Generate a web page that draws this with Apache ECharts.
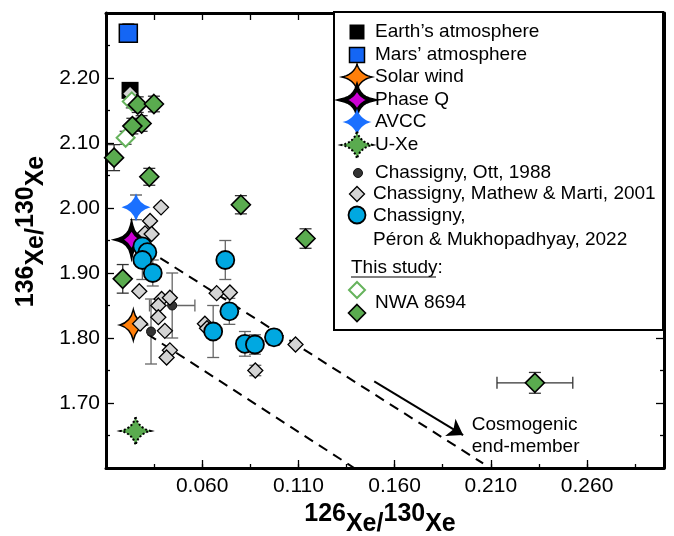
<!DOCTYPE html>
<html>
<head>
<meta charset="utf-8">
<script src="https://cdn.jsdelivr.net/npm/echarts@6/dist/echarts.min.js"></script>
<style>
  html, body { margin: 0; padding: 0; background: #fff; }
  #chart { width: 674px; height: 536px; }
</style>
</head>
<body>
<div id="chart"></div>
<script>
// Labelled tick values
const xTickLabels = [0.060, 0.110, 0.160, 0.210, 0.260];
const yTickLabels = [1.70, 1.80, 1.90, 2.00, 2.10, 2.20];

// Points: [126Xe/130Xe, 136Xe/130Xe, error 126/130, error 136/130]
const earthAtm   = [[0.0225, 2.181, 0, 0]];
const marsAtm    = [[0.0216, 2.269, 0, 0.014]];
const solarWind  = [[0.0242, 1.820, 0, 0]];
const phaseQ     = [[0.0233, 1.951, 0, 0]];
const avcc       = [[0.0256, 2.001, 0, 0.019]];
const uXe        = [[0.0254, 1.657, 0, 0]];

const ott1988 = [
  [0.0444, 1.850, 0.0118, 0.050],
  [0.0334, 1.810, 0, 0.050]
];

const mathewMarti2001 = [
  [0.0225, 2.176, 0, 0], [0.0386, 2.001, 0, 0], [0.0329, 1.980, 0, 0],
  [0.0303, 1.961, 0, 0], [0.0337, 1.960, 0, 0], [0.0273, 1.872, 0, 0],
  [0.0389, 1.860, 0, 0], [0.0432, 1.862, 0, 0], [0.0372, 1.850, 0, 0],
  [0.0372, 1.832, 0, 0], [0.0277, 1.822, 0, 0], [0.0406, 1.811, 0, 0],
  [0.0432, 1.781, 0, 0], [0.0415, 1.770, 0, 0], [0.0675, 1.869, 0, 0],
  [0.0744, 1.870, 0, 0], [0.0614, 1.822, 0, 0], [0.0625, 1.815, 0, 0],
  [0.1085, 1.790, 0, 0], [0.0876, 1.750, 0, 0.008]
];

const peronMukho2022 = [
  [0.0289, 1.941, 0, 0.020], [0.0315, 1.932, 0, 0.020], [0.0289, 1.920, 0, 0.030],
  [0.0343, 1.900, 0, 0.020], [0.0720, 1.920, 0, 0.030], [0.0741, 1.841, 0, 0.020],
  [0.0657, 1.810, 0, 0.040], [0.0822, 1.791, 0, 0.019], [0.0874, 1.790, 0, 0.015],
  [0.0973, 1.801, 0, 0.012]
];

const nwaOpen = [
  [0.0202, 2.108, 0, 0.010],
  [0.0234, 2.164, 0, 0.010]
];

const nwaFilled = [
  [0.0265, 2.159, 0, 0.012], [0.0349, 2.160, 0, 0.012], [0.0285, 2.130, 0, 0.012],
  [0.0237, 2.126, 0, 0.012], [0.0142, 2.0775, 0, 0.020], [0.0325, 2.048, 0, 0.013],
  [0.0801, 2.005, 0, 0.014], [0.1137, 1.953, 0, 0.015], [0.0187, 1.891, 0, 0.022],
  [0.2329, 1.731, 0.0197, 0.016]
];

// Mixing lines towards the cosmogenic end-member
const mixUpper = [[0.0233, 1.951], [0.2060, 1.607]];
const mixLower = [[0.0242, 1.820], [0.1390, 1.600]];
const cosmoArrow = [[0.1494, 1.7334], [0.1956, 1.6506]];
const cosmoLabelAt = [[0.2001, 1.649]];

const FONT = '"Liberation Sans", Arial, Helvetica, sans-serif';
const STAR_K = 0.2;   // concavity of the star sides
const STAR = 'M0,-10Q2,-2,10,0Q2,2,0,10Q-2,2,-10,0Q-2,-2,0,-10Z';

const C = {
  mars: '#1466f5', orange: '#ff7f0a', magenta: '#cc00d4', avcc: '#1a70ff',
  green: '#5aab4f', cyan: '#00a8e1', grey: '#d4d4d4', ott: '#333333'
};

function errorBars(data, color) {
  return {
    type: 'custom',
    silent: true,
    z: 1,
    data: data,
    encode: { x: 0, y: 1 },
    renderItem: function (params, api) {
      const x = api.value(0), y = api.value(1), ex = api.value(2), ey = api.value(3);
      const cap = 6;
      const style = { stroke: color, lineWidth: 1.3 };
      const kids = [];
      const seg = (x1, y1, x2, y2) => kids.push({ type: 'line', shape: { x1, y1, x2, y2 }, style });
      if (ey > 0) {
        const t = api.coord([x, y + ey]), b = api.coord([x, y - ey]);
        seg(t[0], t[1], b[0], b[1]);
        seg(t[0] - cap, t[1], t[0] + cap, t[1]);
        seg(b[0] - cap, b[1], b[0] + cap, b[1]);
      }
      if (ex > 0) {
        const l = api.coord([x - ex, y]), r = api.coord([x + ex, y]);
        seg(l[0], l[1], r[0], r[1]);
        seg(l[0], l[1] - cap, l[0], l[1] + cap);
        seg(r[0], r[1] - cap, r[0], r[1] + cap);
      }
      return { type: 'group', children: kids };
    }
  };
}

function scatter(name, data, symbol, size, itemStyle, z) {
  return {
    type: 'scatter', name, data, symbol, symbolSize: size,
    itemStyle: Object.assign({ opacity: 1 }, itemStyle), z: z || 3, silent: true
  };
}

const isLabelled = (v, list) => list.some(t => Math.abs(t - v) < 1e-9);

const axisLineStyle = { show: true, onZero: false, lineStyle: { color: '#000', width: 3 } };
const tickColor = { color: '#000', width: 1.3 };
const titleRich = {
  s: { fontSize: 25, fontWeight: 'bold', fontFamily: FONT, color: '#000', padding: [0, 0, 20, 0] },
  x: { fontSize: 25, fontWeight: 'bold', fontFamily: FONT, color: '#000' }
};

const option = {
  backgroundColor: '#fff',
  animation: false,
  grid: { left: 106, right: 10, top: 13, bottom: 68, containLabel: false, outerBoundsMode: 'none' },
  xAxis: [
    {
      type: 'value', min: 0.010, max: 0.300, interval: 0.05, position: 'bottom',
      axisLine: axisLineStyle,
      axisTick: { show: true, inside: true, length: 8, lineStyle: tickColor },
      splitLine: { show: false },
      axisLabel: {
        margin: 8, color: '#000', fontSize: 21, fontFamily: FONT,
        showMinLabel: false, showMaxLabel: false,
        formatter: v => isLabelled(v, xTickLabels) ? v.toFixed(3) : ''
      },
      name: '{s|126}{x|Xe/}{s|130}{x|Xe}',
      nameLocation: 'middle', nameGap: 28,
      nameTextStyle: {
        fontSize: 25, fontWeight: 'bold', fontFamily: FONT, color: '#000',
        padding: [0, 10, 0, 0], rich: titleRich
      }
    },
    {
      type: 'value', min: 0.010, max: 0.300, interval: 0.025, position: 'bottom',
      axisLine: { show: false },
      axisTick: { show: true, inside: true, length: 4, lineStyle: tickColor },
      axisLabel: { show: false }, splitLine: { show: false }
    },
    {
      type: 'value', min: 0.010, max: 0.300, interval: 0.025, position: 'top',
      axisLine: axisLineStyle,
      axisTick: { show: true, inside: true, length: 7, lineStyle: tickColor },
      axisLabel: { show: false }, splitLine: { show: false }
    }
  ],
  yAxis: [
    {
      type: 'value', min: 1.60, max: 2.30, interval: 0.1, position: 'left',
      axisLine: axisLineStyle,
      axisTick: { show: true, inside: true, length: 8, lineStyle: tickColor },
      minorTick: { show: true, splitNumber: 2, length: 4, lineStyle: tickColor },
      splitLine: { show: false }, minorSplitLine: { show: false },
      axisLabel: {
        margin: 6, color: '#000', fontSize: 21, fontFamily: FONT,
        showMinLabel: false, showMaxLabel: false,
        formatter: v => isLabelled(v, yTickLabels) ? v.toFixed(2) : ''
      },
      name: '{s|136}{x|Xe/}{s|130}{x|Xe}',
      nameLocation: 'middle', nameRotate: 90, nameGap: 46,
      nameTextStyle: {
        fontSize: 25, fontWeight: 'bold', fontFamily: FONT, color: '#000',
        padding: [0, 0, 0, 18], rich: titleRich
      }
    },
    {
      type: 'value', min: 1.60, max: 2.30, interval: 0.1, position: 'right',
      axisLine: axisLineStyle,
      axisTick: { show: true, inside: true, length: 8, lineStyle: tickColor },
      minorTick: { show: true, splitNumber: 2, length: 4, lineStyle: tickColor },
      splitLine: { show: false }, minorSplitLine: { show: false },
      axisLabel: { show: false }
    }
  ],
  series: [
    {
      type: 'line', data: mixUpper, showSymbol: false, silent: true, z: 1,
      lineStyle: { color: '#000', width: 2, type: [10, 7] }
    },
    {
      type: 'line', data: mixLower, showSymbol: false, silent: true, z: 1,
      lineStyle: { color: '#000', width: 2, type: [10, 7] }
    },
    {
      type: 'lines', coordinateSystem: 'cartesian2d', silent: true, z: 2,
      symbol: ['none', 'arrow'], symbolSize: 15,
      lineStyle: { color: '#000', width: 2, opacity: 1 },
      data: [{ coords: cosmoArrow }]
    },
    {
      type: 'scatter', data: cosmoLabelAt, symbolSize: 0, silent: true, z: 2,
      itemStyle: { opacity: 1 },
      label: {
        show: true, position: [0, 0], align: 'left', verticalAlign: 'middle',
        formatter: 'Cosmogenic\nend-member', fontSize: 19, lineHeight: 22,
        fontFamily: FONT, color: '#000'
      }
    },
    errorBars(marsAtm, '#000'),
    errorBars(avcc, '#555'),
    errorBars(ott1988, '#666'),
    errorBars(mathewMarti2001, '#666'),
    errorBars(peronMukho2022, '#666'),
    errorBars(nwaOpen, '#444'),
    errorBars(nwaFilled, '#333'),
    scatter('Earth’s atmosphere', earthAtm, 'rect', 17, { color: '#000' }),
    scatter('Mars’ atmosphere', marsAtm, 'rect', 18, { color: C.mars, borderColor: '#000', borderWidth: 1.5 }),
    scatter('Solar wind', solarWind, 'path://' + STAR, [27, 31], { color: C.orange, borderColor: '#000', borderWidth: 1.5 }),
    scatter('Phase Q', phaseQ, 'path://' + STAR, [26, 28], { color: C.magenta, borderColor: '#000', borderWidth: 4 }),
    scatter('AVCC', avcc, 'path://' + STAR, [29, 28], { color: C.avcc }),
    scatter('U-Xe', uXe, 'path://' + STAR, [30, 28], { color: C.green, borderColor: '#000', borderWidth: 2, borderType: [2, 2] }),
    scatter('Chassigny, Ott, 1988', ott1988, 'circle', 9, { color: C.ott, borderColor: '#111', borderWidth: 1 }, 4),
    scatter('Chassigny, Mathew & Marti, 2001', mathewMarti2001, 'diamond', 15, { color: C.grey, borderColor: '#000', borderWidth: 1.3 }, 5),
    scatter('Chassigny, Péron & Mukhopadhyay, 2022', peronMukho2022, 'circle', 18, { color: C.cyan, borderColor: '#000', borderWidth: 1.8 }, 6),
    scatter('NWA 8694 (open)', nwaOpen, 'diamond', 18, { color: '#fff', borderColor: '#66b35c', borderWidth: 2 }, 7),
    scatter('NWA 8694', nwaFilled, 'diamond', 19, { color: C.green, borderColor: '#000', borderWidth: 1.6 }, 8)
  ]
};

// Legend panel
const LX = 357;     // marker centre column
const TX = 375;     // text column
const txt = (text, x, y) => ({
  type: 'text', x, y, z: 101,
  style: { text, fill: '#000', font: '19px ' + FONT, verticalAlign: 'middle', align: 'left' }
});
// four-pointed star outline sampled from the same quadratic curves as STAR
function starPoints(cx, cy, w, h) {
  const tips = [[0, -1], [1, 0], [0, 1], [-1, 0], [0, -1]];
  const pts = [];
  for (let i = 0; i < 4; i++) {
    const p0 = tips[i], p2 = tips[i + 1];
    const c = [(p0[0] + p2[0]) * STAR_K, (p0[1] + p2[1]) * STAR_K];
    for (let s = 0; s < 12; s++) {
      const t = s / 12, u = 1 - t;
      const px = u * u * p0[0] + 2 * u * t * c[0] + t * t * p2[0];
      const py = u * u * p0[1] + 2 * u * t * c[1] + t * t * p2[1];
      pts.push([cx + px * w / 2, cy + py * h / 2]);
    }
  }
  return pts;
}
const star = (cx, cy, w, h, style) => ({
  type: 'polygon', z: 101, shape: { points: starPoints(cx, cy, w, h) }, style
});
const diamond = (cx, cy, s, style) => ({
  type: 'polygon', z: 101,
  shape: { points: [[cx, cy - s / 2], [cx + s / 2, cy], [cx, cy + s / 2], [cx - s / 2, cy]] },
  style
});
const square = (cx, cy, s, style) => ({
  type: 'rect', z: 101, shape: { x: cx - s / 2, y: cy - s / 2, width: s, height: s }, style
});

option.graphic = [
  { type: 'rect', z: 100, shape: { x: 334, y: 12, width: 329, height: 318 },
    style: { fill: '#fff', stroke: '#000', lineWidth: 2 } },
  square(LX, 32, 15, { fill: '#000' }),
  txt('Earth’s atmosphere', TX, 32),
  square(LX, 55, 15, { fill: C.mars, stroke: '#000', lineWidth: 1.5 }),
  txt('Mars’ atmosphere', TX, 55),
  star(LX, 77, 30, 26, { fill: C.orange, stroke: '#000', lineWidth: 1.5 }),
  txt('Solar wind', TX, 77),
  star(LX, 100, 30, 26, { fill: C.magenta, stroke: '#000', lineWidth: 4 }),
  txt('Phase Q', TX, 100),
  star(LX, 122, 29, 27, { fill: C.avcc }),
  txt('AVCC', TX, 122),
  star(LX, 145, 31, 27, { fill: C.green, stroke: '#000', lineWidth: 2, lineDash: [2, 2] }),
  txt('U-Xe', TX, 145),
  { type: 'circle', z: 101, shape: { cx: LX + 1, cy: 173, r: 4.5 }, style: { fill: C.ott, stroke: '#111', lineWidth: 1 } },
  txt('Chassigny, Ott, 1988', TX, 173),
  diamond(LX, 194, 15, { fill: C.grey, stroke: '#000', lineWidth: 1.3 }),
  txt('Chassigny, Mathew & Marti, 2001', 373, 194),
  { type: 'circle', z: 101, shape: { cx: LX, cy: 215, r: 8.5 }, style: { fill: C.cyan, stroke: '#000', lineWidth: 1.8 } },
  txt('Chassigny,', 373, 216),
  txt('Péron & Mukhopadhyay, 2022', 373, 240),
  txt('This study:', 351, 268),
  { type: 'line', z: 101, shape: { x1: 351, y1: 277, x2: 436, y2: 277 }, style: { stroke: '#000', lineWidth: 1.2 } },
  diamond(LX, 290, 16, { fill: '#fff', stroke: '#66b35c', lineWidth: 2 }),
  txt('NWA 8694', TX, 303),
  diamond(LX, 313, 17, { fill: C.green, stroke: '#000', lineWidth: 1.6 })
];

const chart = echarts.init(document.getElementById('chart'), null, { renderer: 'canvas' });
chart.setOption(option);
</script>
</body>
</html>
